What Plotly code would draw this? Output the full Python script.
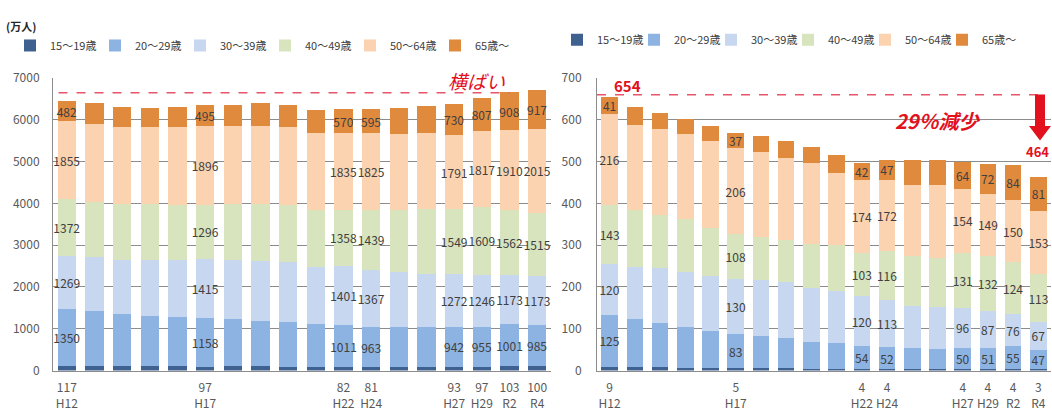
import plotly.graph_objects as go

# ---------------- data ----------------
years = ["H12", "H13", "H14", "H15", "H16", "H17", "H18", "H19", "H20", "H21",
         "H22", "H24", "H25", "H26", "H27", "H29", "R2", "R4"]
labeled_years = ["H12", "H17", "H22", "H24", "H27", "H29", "R2", "R4"]
age_groups = ["15～19歳", "20～29歳", "30～39歳", "40～49歳", "50～64歳", "65歳～"]

# 全産業 就業者数（万人）
all_15_19 = [117, 110, 104, 100, 98, 97, 98, 100, 96, 88, 82, 81, 88, 90, 93, 97, 103, 100]
all_20_29 = [1350, 1317, 1248, 1214, 1193, 1158, 1132, 1092, 1058, 1028, 1011, 963, 960, 958, 942, 955, 1001, 985]
all_30_39 = [1269, 1290, 1300, 1330, 1360, 1415, 1420, 1440, 1440, 1374, 1401, 1367, 1306, 1268, 1272, 1246, 1173, 1173]
all_40_49 = [1372, 1310, 1334, 1342, 1313, 1296, 1336, 1354, 1370, 1344, 1358, 1439, 1480, 1556, 1549, 1609, 1562, 1515]
all_50_64 = [1855, 1873, 1845, 1845, 1867, 1896, 1876, 1876, 1867, 1861, 1835, 1825, 1823, 1808, 1791, 1817, 1910, 2015]
all_65 = [482, 493, 486, 448, 486, 495, 501, 531, 532, 546, 570, 595, 630, 650, 730, 807, 908, 917]

# 右側（万人）
sub_15_19 = [9, 9, 8, 7, 6, 5, 5, 5, 4, 4, 4, 4, 4, 4, 4, 4, 4, 3]
sub_20_29 = [125, 114, 107, 97, 89, 83, 78, 72, 65, 63, 54, 52, 49, 48, 50, 51, 55, 47]
sub_30_39 = [120, 125, 131, 131, 131, 130, 134, 134, 128, 124, 120, 113, 101, 101, 96, 87, 76, 67]
sub_40_49 = [143, 137, 127, 127, 116, 108, 103, 101, 107, 109, 103, 116, 119, 116, 131, 132, 124, 113]
sub_50_64 = [216, 203, 204, 205, 207, 206, 202, 197, 193, 174, 174, 172, 172, 175, 154, 149, 150, 153]
sub_65 = [41, 43, 40, 35, 36, 37, 39, 41, 38, 43, 42, 47, 59, 61, 64, 72, 84, 81]

left_ref_value = 6650
right_start_total = 654
right_end_total = 464

colors = ["#3E6190", "#8DB3E2", "#C6D7EF", "#D7E4BD", "#FCD3B0", "#E08A3E"]

# ---------------- figure ----------------
W, H = 1052, 414
FONT = "Noto Sans CJK JP"
RED = "#E3101E"


def px_x(p):
    return p / W


def px_y(p):
    return (H - p) / H


fig = go.Figure()

left_series = [all_15_19, all_20_29, all_30_39, all_40_49, all_50_64, all_65]
right_series = [sub_15_19, sub_20_29, sub_30_39, sub_40_49, sub_50_64, sub_65]


def make_text(vals, show):
    if not show:
        return ["" for _ in vals]
    return [str(v) if y in labeled_years else "" for v, y in zip(vals, years)]


for i, (name, vals) in enumerate(zip(age_groups, left_series)):
    fig.add_trace(go.Bar(
        x=years, y=vals, name=name, marker=dict(color=colors[i], line=dict(width=0)),
        text=make_text(vals, i > 0), textposition="inside", insidetextanchor="middle",
        textangle=0, constraintext="none",
        textfont=dict(size=12, color="#404040", family=FONT),
        xaxis="x", yaxis="y", legend="legend", hoverinfo="x+y+name",
    ))

for i, (name, vals) in enumerate(zip(age_groups, right_series)):
    fig.add_trace(go.Bar(
        x=years, y=vals, name=name, marker=dict(color=colors[i], line=dict(width=0)),
        text=make_text(vals, i > 0), textposition="inside", insidetextanchor="middle",
        textangle=0, constraintext="none",
        textfont=dict(size=12, color="#404040", family=FONT),
        xaxis="x2", yaxis="y2", legend="legend2", hoverinfo="x+y+name",
    ))


def ticktext(first_series):
    return [f"{v}<br>{y}" if y in labeled_years else "" for v, y in zip(first_series, years)]


ydom = [px_y(376), px_y(71)]
grid = "#8C8C8C"
tickfont = dict(size=12, color="#595959", family=FONT)

fig.update_layout(
    width=W, height=H, margin=dict(l=0, r=0, t=0, b=0),
    paper_bgcolor="white", plot_bgcolor="white",
    barmode="stack", bargap=0.34,
    uniformtext=dict(mode="show", minsize=12),
    font=dict(family=FONT),
    xaxis=dict(domain=[px_x(53), px_x(551)], anchor="y", type="category",
               range=[-0.5, len(years) - 0.5], tickmode="array", tickvals=years,
               ticktext=ticktext(all_15_19), tickfont=tickfont, showline=True,
               linecolor=grid, ticks="", showgrid=False, ticklabelstandoff=6),
    yaxis=dict(domain=ydom, anchor="x", range=[0, 7000], dtick=1000,
               showgrid=True, gridcolor=grid, gridwidth=1, showline=True,
               linecolor=grid, ticks="", tickfont=tickfont, ticklabelstandoff=10,
               zeroline=False),
    xaxis2=dict(domain=[px_x(597), px_x(1051)], anchor="y2", type="category",
                range=[-0.5, len(years) - 0.5], tickmode="array", tickvals=years,
                ticktext=ticktext(sub_15_19), tickfont=tickfont, showline=True,
                linecolor=grid, ticks="", showgrid=False, ticklabelstandoff=6),
    yaxis2=dict(domain=ydom, anchor="x2", range=[0, 700], dtick=100,
                showgrid=True, gridcolor=grid, gridwidth=1, showline=True,
                linecolor=grid, ticks="", tickfont=tickfont, ticklabelstandoff=12,
                zeroline=False),
    legend=dict(orientation="h", x=px_x(10), y=px_y(37), xanchor="left", yanchor="middle",
                entrywidth=40, entrywidthmode="pixels",
                font=dict(size=11, color="#404040", family=FONT), bgcolor="rgba(0,0,0,0)",
                traceorder="normal"),
    legend2=dict(orientation="h", x=px_x(557), y=px_y(31), xanchor="left", yanchor="middle",
                 entrywidth=32, entrywidthmode="pixels",
                 font=dict(size=11, color="#404040", family=FONT), bgcolor="rgba(0,0,0,0)",
                 traceorder="normal"),
    showlegend=True,
)

shapes = [
    dict(type="line", xref="x", yref="y", x0=-0.3, x1=16.0, y0=left_ref_value, y1=left_ref_value,
         line=dict(color="#E8546A", width=1.5, dash="dash"), layer="above"),
    dict(type="line", xref="x2", yref="y2", x0=-0.5, x1=17.1, y0=right_start_total + 6,
         y1=right_start_total + 6, line=dict(color="#E8546A", width=1.5, dash="dash"), layer="above"),
]
# block arrow (decoration)
ax_c, ay0, ay1, ay2 = 1040, 88, 121, 136
arrow_path = (f"M {px_x(ax_c-5)},{px_y(ay0)} L {px_x(ax_c+5)},{px_y(ay0)} "
              f"L {px_x(ax_c+5)},{px_y(ay1)} L {px_x(ax_c+11)},{px_y(ay1)} "
              f"L {px_x(ax_c)},{px_y(ay2)} L {px_x(ax_c-11)},{px_y(ay1)} "
              f"L {px_x(ax_c-5)},{px_y(ay1)} Z")
shapes.append(dict(type="path", xref="paper", yref="paper", path=arrow_path,
                   fillcolor=RED, line=dict(width=0), layer="above"))
fig.update_layout(shapes=shapes)

annotations = [
    dict(text="<b>(万人)</b>", xref="paper", yref="paper", x=px_x(4), y=px_y(17),
         xanchor="left", yanchor="middle", showarrow=False,
         font=dict(size=11, color="#262626", family=FONT)),
    dict(text="横ばい", xref="paper", yref="paper", x=px_x(476), y=px_y(73),
         xanchor="center", yanchor="middle", showarrow=False,
         font=dict(size=19, color=RED, family=FONT, style="italic")),
    dict(text=f"<b>{right_start_total}</b>", xref="paper", yref="paper", x=px_x(627), y=px_y(79),
         xanchor="center", yanchor="middle", showarrow=False,
         font=dict(size=15, color=RED, family=FONT)),
    dict(text="<b>29％減少</b>", xref="paper", yref="paper", x=px_x(938), y=px_y(115),
         xanchor="center", yanchor="middle", showarrow=False,
         font=dict(size=20, color=RED, family=FONT, style="italic")),
    dict(text=f"<b>{right_end_total}</b>", xref="paper", yref="paper", x=px_x(1051), y=px_y(148),
         xanchor="right", yanchor="middle", showarrow=False,
         font=dict(size=13, color=RED, family=FONT)),
]
fig.update_layout(annotations=annotations)

fig.write_html("out.html")
